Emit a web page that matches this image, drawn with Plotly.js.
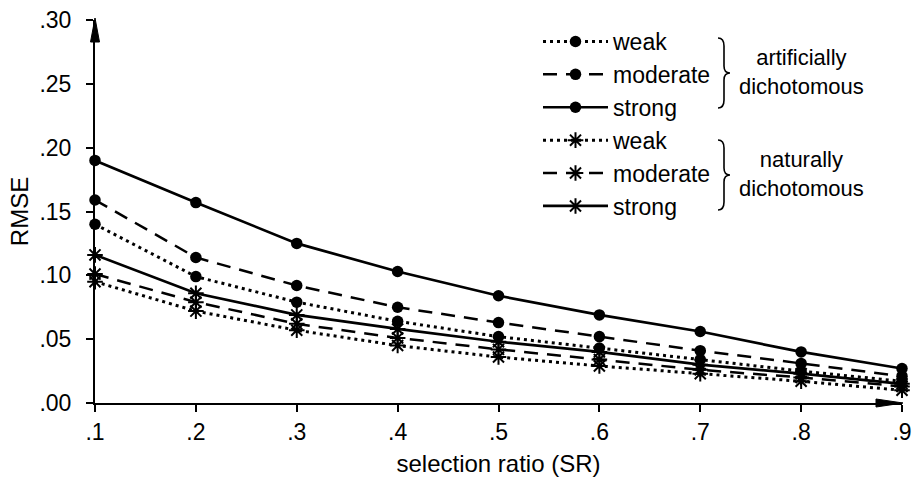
<!DOCTYPE html>
<html>
<head>
<meta charset="utf-8">
<script src="https://cdn.plot.ly/plotly-3.0.1.min.js"></script>
<style>
html,body{margin:0;padding:0;background:#ffffff;}
#chart{width:918px;height:478px;}
</style>
</head>
<body>
<div id="chart"></div>
<script>
// ---- data ----
const selectionRatio = [0.1, 0.2, 0.3, 0.4, 0.5, 0.6, 0.7, 0.8, 0.9];
const xTickLabels = ['.1', '.2', '.3', '.4', '.5', '.6', '.7', '.8', '.9'];
const yTickValues = [0, 0.05, 0.10, 0.15, 0.20, 0.25, 0.30];
const yTickLabels = ['.00', '.05', '.10', '.15', '.20', '.25', '.30'];

const artificialWeak     = [0.140, 0.099, 0.079, 0.064, 0.052, 0.043, 0.034, 0.025, 0.017];
const artificialModerate = [0.159, 0.114, 0.092, 0.075, 0.063, 0.052, 0.041, 0.031, 0.021];
const artificialStrong   = [0.190, 0.157, 0.125, 0.103, 0.084, 0.069, 0.056, 0.040, 0.027];
const naturalWeak        = [0.095, 0.072, 0.057, 0.045, 0.036, 0.029, 0.023, 0.017, 0.010];
const naturalModerate    = [0.101, 0.079, 0.062, 0.051, 0.042, 0.034, 0.026, 0.020, 0.013];
const naturalStrong      = [0.116, 0.086, 0.069, 0.058, 0.048, 0.040, 0.030, 0.023, 0.015];

const seriesNames = ['weak', 'moderate', 'strong'];
const groupLabels = ['artificially<br>dichotomous', 'naturally<br>dichotomous'];

// ---- styling ----
const FONT = 'Liberation Sans, Arial, Helvetica, sans-serif';
const BLACK = '#000000';
const dashStyles = ['3px,4px', '14px,9px', 'solid'];
const lineWidths = [3, 2.5, 2.7];

function makeTrace(values, idx, natural) {
  return {
    x: selectionRatio,
    y: values,
    name: seriesNames[idx],
    type: 'scatter',
    mode: 'lines+markers',
    cliponaxis: false,
    line: {color: BLACK, width: lineWidths[idx], dash: dashStyles[idx]},
    marker: natural
      ? {symbol: 'asterisk-open', size: 13, color: BLACK, line: {color: BLACK, width: 2}}
      : {symbol: 'circle', size: 11.5, color: BLACK, line: {width: 0}}
  };
}

const traces = [
  makeTrace(artificialWeak, 0, false),
  makeTrace(artificialModerate, 1, false),
  makeTrace(artificialStrong, 2, false),
  makeTrace(naturalWeak, 0, true),
  makeTrace(naturalModerate, 1, true),
  makeTrace(naturalStrong, 2, true)
];

// pixel -> paper helpers for decorations (plot area: x 95..902, y 20..403)
const PL = 95, PR = 902, PT = 20, PB = 403;
const px = v => (v - PL) / (PR - PL);
const py = v => (PB - v) / (PB - PT);

function bracePath(top, bottom, xEnd, xSpine, xTip) {
  const mid = (top + bottom) / 2;
  const P = (x, y) => px(x).toFixed(5) + ',' + py(y).toFixed(5);
  return 'M' + P(xEnd, top) +
    ' Q' + P(xSpine, top) + ' ' + P(xSpine, top + 8) +
    ' L' + P(xSpine, mid - 7) +
    ' Q' + P(xSpine, mid) + ' ' + P(xTip, mid) +
    ' Q' + P(xSpine, mid) + ' ' + P(xSpine, mid + 7) +
    ' L' + P(xSpine, bottom - 8) +
    ' Q' + P(xSpine, bottom) + ' ' + P(xEnd, bottom);
}

const layout = {
  width: 918,
  height: 478,
  margin: {l: PL, r: 918 - PR, t: PT, b: 478 - PB},
  paper_bgcolor: '#ffffff',
  plot_bgcolor: '#ffffff',
  font: {family: FONT, color: BLACK, size: 20},
  showlegend: true,
  legend: {
    x: px(538), y: py(20), xanchor: 'left', yanchor: 'top',
    font: {family: FONT, size: 23, color: BLACK},
    bgcolor: 'rgba(0,0,0,0)', borderwidth: 0, tracegroupgap: 0,
    traceorder: 'normal', itemwidth: 65
  },
  xaxis: {
    range: [0.1, 0.9],
    tickvals: selectionRatio,
    ticktext: xTickLabels,
    showgrid: false, zeroline: false,
    showline: true, linecolor: BLACK, linewidth: 2,
    ticks: 'outside', ticklen: 7, tickwidth: 2, tickcolor: BLACK,
    ticklabelstandoff: 0,
    tickfont: {family: FONT, size: 23, color: BLACK},
    title: {text: 'selection ratio (SR)', font: {family: FONT, size: 24, color: BLACK}, standoff: 12}
  },
  yaxis: {
    range: [0, 0.30],
    tickvals: yTickValues,
    ticktext: yTickLabels,
    showgrid: false, zeroline: false,
    showline: true, linecolor: BLACK, linewidth: 2,
    ticks: 'outside', ticklen: 7, tickwidth: 2, tickcolor: BLACK,
    ticklabelstandoff: 10,
    tickfont: {family: FONT, size: 23, color: BLACK},
    title: {text: 'RMSE', font: {family: FONT, size: 24, color: BLACK}, standoff: 4}
  },
  shapes: [
    // y-axis arrow head
    {type: 'path', xref: 'paper', yref: 'paper', xsizemode: 'pixel', ysizemode: 'pixel',
     xanchor: 0, yanchor: 1, path: 'M-4.5,-22 L4.5,-22 L0,2 Z',
     fillcolor: BLACK, line: {color: BLACK, width: 1}},
    // x-axis arrow head
    {type: 'path', xref: 'paper', yref: 'paper', xsizemode: 'pixel', ysizemode: 'pixel',
     xanchor: 1, yanchor: 0, path: 'M-26,-4 L-26,4 L1,0 Z',
     fillcolor: BLACK, line: {color: BLACK, width: 1}},
    // braces
    {type: 'path', xref: 'paper', yref: 'paper', path: bracePath(38, 108, 718, 724, 730),
     line: {color: BLACK, width: 1.6}},
    {type: 'path', xref: 'paper', yref: 'paper', path: bracePath(140, 210, 718, 724, 730),
     line: {color: BLACK, width: 1.6}}
  ],
  annotations: [
    {xref: 'paper', yref: 'paper', x: px(801), y: py(72), xanchor: 'center', yanchor: 'middle',
     text: groupLabels[0], showarrow: false, align: 'center',
     font: {family: FONT, size: 22, color: BLACK}},
    {xref: 'paper', yref: 'paper', x: px(801), y: py(174), xanchor: 'center', yanchor: 'middle',
     text: groupLabels[1], showarrow: false, align: 'center',
     font: {family: FONT, size: 22, color: BLACK}}
  ]
};

Plotly.newPlot('chart', traces, layout, {displayModeBar: false, staticPlot: true});
</script>
</body>
</html>
